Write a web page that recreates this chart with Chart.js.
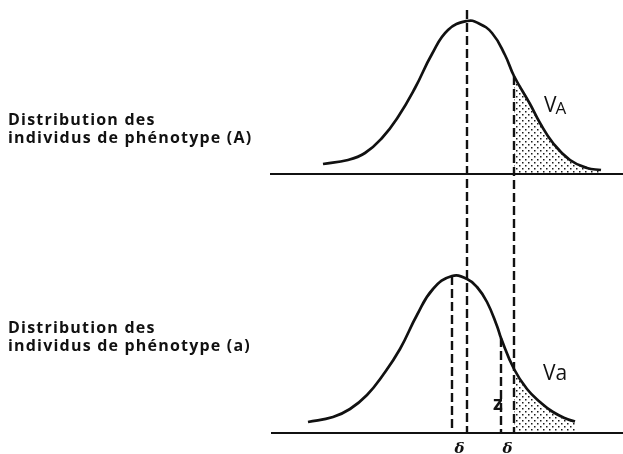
<!DOCTYPE html>
<html lang="fr">
<head>
<meta charset="utf-8">
<title>Distribution des phénotypes</title>
<script src="https://cdn.jsdelivr.net/npm/chart.js@4.4.1/dist/chart.umd.min.js"></script>
<style>
    html, body { margin: 0; padding: 0; background: #fff; }
    #wrap { width: 623px; height: 454px; }
</style>
</head>
<body>
<div id="wrap"><canvas id="chart" width="623" height="454"></canvas></div>
<script>
// Valeurs phénotypiques (origine = moyenne de A) et effectifs
const xA = [-144, -119, -102, -85, -69, -52, -35, -19, 0, 11, 25, 38, 47, 63, 73, 86, 103, 120, 134];
const fA = [10, 14, 21, 36, 57, 86, 120, 144, 153, 151, 141, 119, 98, 70, 51, 31, 14, 6, 4];

const xa = [-159, -134, -117, -100, -84, -67, -50, -34, -15, 0, 10, 20, 30, 34, 47, 60, 73, 86, 100, 108];
const fa = [11, 16, 24, 38, 58, 84, 118, 144, 157, 154, 146, 131, 107, 95, 64, 44, 31, 21, 14, 11.5];

const moyenneA = 0;
const moyennea = -15;
const valeurZ = 34;
const seuil = 47;

const libellesA = ['Distribution des', 'individus de phénotype (A)'];
const libellesa = ['Distribution des', 'individus de phénotype (a)'];

// Domaine des axes (les deux panneaux partagent la même hauteur de toile)
const xMin = -467, xMax = 156;
const yAMin = -280, yAMax = 174;
const yaMin = -21, yaMax = 433;
const decalage = yaMax - yAMax; // ordonnée 0 de (a) exprimée sur l'axe de (A)

function points(xs, ys) {
    return xs.map((x, i) => ({ x: x, y: ys[i] }));
}

function queue(xs, ys, depuis) {
    return points(xs, ys).filter(p => p.x >= depuis);
}

function valeurEn(xs, ys, x) {
    const i = xs.indexOf(x);
    return ys[i];
}

function motifPoints() {
    const c = document.createElement('canvas');
    c.width = 6;
    c.height = 6;
    const g = c.getContext('2d');
    g.fillStyle = '#1a1a1a';
    g.fillRect(0, 0, 1.5, 1.5);
    g.fillRect(3, 3, 1.5, 1.5);
    return g.createPattern(c, 'repeat');
}

const trait = '#111';
const tirets = [9, 4];

function courbe(data, axe) {
    return {
        data: data, yAxisID: axe, borderColor: trait, borderWidth: 2.7,
        pointRadius: 0, tension: 0.45, fill: false
    };
}

function hachure(data, axe) {
    return {
        data: data, yAxisID: axe, borderWidth: 0, pointRadius: 0,
        tension: 0.45, fill: 'origin', backgroundColor: motifPoints()
    };
}

function verticale(x, y0, y1, axe) {
    return {
        data: [{ x: x, y: y0 }, { x: x, y: y1 }], yAxisID: axe,
        borderColor: trait, borderWidth: 2.4, borderDash: tirets, pointRadius: 0, fill: false
    };
}

function horizontale(x0, x1, axe) {
    return {
        data: [{ x: x0, y: 0 }, { x: x1, y: 0 }], yAxisID: axe,
        borderColor: trait, borderWidth: 2, pointRadius: 0, fill: false
    };
}

const textes = {
    id: 'textes',
    afterDatasetsDraw(chart) {
        const ctx = chart.ctx;
        const sx = chart.scales.x, sA = chart.scales.yA, sa = chart.scales.ya;
        ctx.save();
        ctx.fillStyle = trait;
        ctx.textBaseline = 'alphabetic';

        // libellés de gauche
        ctx.font = '700 16px "Open Sans"';
        ctx.letterSpacing = '1.2px';
        ctx.fillText(libellesA[0], 8, sA.getPixelForValue(49));
        ctx.fillText(libellesA[1], 8, sA.getPixelForValue(31));
        ctx.fillText(libellesa[0], 8, sa.getPixelForValue(100));
        ctx.fillText(libellesa[1], 8, sa.getPixelForValue(82));
        ctx.letterSpacing = '0px';

        // V_A
        ctx.font = '400 21px "Open Sans"';
        const xv = sx.getPixelForValue(77);
        ctx.fillText('V', xv, sA.getPixelForValue(62));
        const lv = ctx.measureText('V').width;
        ctx.font = '400 17px "Open Sans"';
        ctx.fillText('A', xv + lv - 1, sA.getPixelForValue(60.5));

        // Va
        ctx.font = '400 21px "Open Sans"';
        ctx.fillText('Va', sx.getPixelForValue(76), sa.getPixelForValue(53));

        // z
        ctx.font = '700 20px "Open Sans"';
        ctx.textAlign = 'center';
        ctx.fillText('z', sx.getPixelForValue(31), sa.getPixelForValue(23));

        // delta
        ctx.font = 'italic 700 15px "DejaVu Serif"';
        ctx.fillText('δ', sx.getPixelForValue((moyennea + moyenneA) / 2), sa.getPixelForValue(-20));
        ctx.fillText('δ', sx.getPixelForValue((valeurZ + seuil) / 2), sa.getPixelForValue(-20));
        ctx.restore();
    }
};

const haut = valeurEn(xA, fA, seuil);

new Chart(document.getElementById('chart'), {
    type: 'line',
    data: {
        datasets: [
            hachure(queue(xA, fA, seuil), 'yA'),
            hachure(queue(xa, fa, seuil), 'ya'),
            horizontale(-197, xMax, 'yA'),
            horizontale(-196, xMax, 'ya'),
            courbe(points(xA, fA), 'yA'),
            courbe(points(xa, fa), 'ya'),
            verticale(moyenneA, 164, -decalage, 'yA'),
            verticale(seuil, haut, -decalage, 'yA'),
            verticale(moyennea, valeurEn(xa, fa, moyennea), 0, 'ya'),
            verticale(valeurZ, valeurEn(xa, fa, valeurZ), 0, 'ya')
        ]
    },
    options: {
        responsive: false,
        animation: false,
        events: [],
        layout: { padding: 0 },
        plugins: { legend: { display: false }, tooltip: { enabled: false } },
        scales: {
            x: { type: 'linear', min: xMin, max: xMax, display: false },
            yA: { type: 'linear', position: 'left', min: yAMin, max: yAMax, display: false },
            ya: { type: 'linear', position: 'left', min: yaMin, max: yaMax, display: false }
        }
    },
    plugins: [textes]
});
</script>
</body>
</html>
